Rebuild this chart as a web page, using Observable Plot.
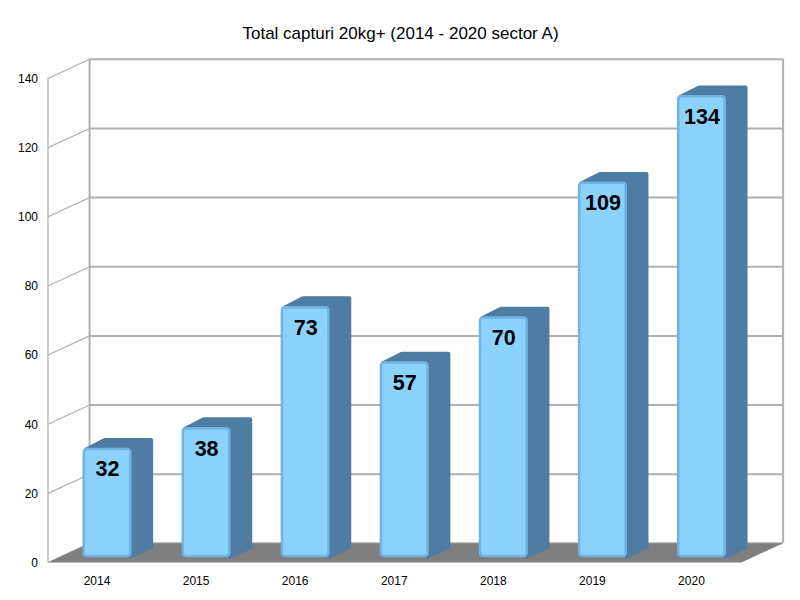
<!DOCTYPE html>
<html>
<head>
<meta charset="utf-8">
<script src="https://cdn.jsdelivr.net/npm/d3@7"></script>
<script src="https://cdn.jsdelivr.net/npm/@observablehq/plot@0.6"></script>
<style>html,body{margin:0;padding:0;background:#fff}svg{display:block}</style>
</head>
<body>
<div id="chart"></div>
<script>
const titleText = "Total capturi 20kg+ (2014 - 2020 sector A)";
const years = ["2014","2015","2016","2017","2018","2019","2020"];
const values = [32,38,73,57,70,109,134];
const yTicks = [0,20,40,60,80,100,120,140];

// Oblique 3D projection, in data units of the two scales
const wallX = 0.42, wallY = 5.55;    // depth of the whole floor
const barX = 0.205, barY = 2.7;       // depth of a bar
const barLeft = 0.366, barRight = 0.836, barBase = 1.74, barTopShift = 0.7;

const n = years.length;
const bars = years.map((year, i) => ({
  year, value: values[i],
  x1: i + barLeft, x2: i + barRight,
  y1: barBase, y2: values[i] + barTopShift
}));
const sides = bars.flatMap(b => [
  {year: b.year, x: b.x1 + .02, y: b.y2},
  {year: b.year, x: b.x1 + barX, y: b.y2 + barY},
  {year: b.year, x: b.x2 + barX, y: b.y2 + barY},
  {year: b.year, x: b.x2 + barX, y: b.y1 + barY},
  {year: b.year, x: b.x2, y: b.y1},
  {year: b.year, x: b.x1 + .02, y: b.y2}
]);
const floor = [[0,0],[n,0],[n+wallX,wallY],[wallX,wallY],[0,0]];

const grey = "#b0b0b0";
const chart = Plot.plot({
  width: 800, height: 600,
  marginLeft: 47.5, marginRight: 59, marginTop: 78, marginBottom: 38,
  style: {fontFamily: "'Liberation Sans', Arial, sans-serif", background: "#fff", color: "#000"},
  x: {type: "linear", domain: [0, n]},
  y: {domain: [0, 140]},
  marks: [
    // back wall grid
    Plot.ruleY(yTicks, {y: d => d + wallY, x1: wallX, x2: n + wallX, stroke: grey, strokeWidth: 2, strokeOpacity: 1}),
    Plot.ruleX([wallX, n + wallX], {y1: wallY, y2: 140 + wallY, stroke: grey, strokeWidth: 2, strokeOpacity: 1}),
    // side wall
    Plot.link(yTicks, {x1: 0, y1: d => d, x2: wallX, y2: d => d + wallY, stroke: grey, strokeWidth: 1.2, strokeOpacity: 1}),
    Plot.ruleX([0], {y1: 0, y2: 140, stroke: grey, strokeWidth: 1.2, strokeOpacity: 1}),
    // floor
    Plot.line(floor, {x: d => d[0], y: d => d[1], fill: "#7f7f7f", stroke: "none"}),
    // bar top + side
    Plot.line(sides, {x: "x", y: "y", z: "year", fill: "#4f7ca3", stroke: "#4f7ca3", strokeWidth: 4, strokeLinejoin: "round", strokeOpacity: 1}),
    // bar front
    Plot.rect(bars, {x1: "x1", x2: "x2", y1: "y1", y2: "y2", fill: "#8cd2ff", stroke: "#70b2e2", strokeWidth: 2.5, rx: 3, ry: 3}),
    // value labels
    Plot.text(bars, {x: d => (d.x1 + d.x2) / 2, y: "y2", text: d => String(d.value), dy: 20, dx: 0, fontSize: 21.5, fontWeight: "bold", fill: "#000"}),
    // axes
    Plot.axisY({ticks: yTicks, tickSize: 0, tickPadding: 10, dy: 0.5, fontSize: 12, label: null, anchor: "left"}),
    Plot.axisX({ticks: years.map((_, i) => i + .5), tickFormat: d => years[d - .5], tickSize: 0, tickPadding: 13.5, dx: -0.5, fontSize: 12, label: null, anchor: "bottom"}),
    // title
    Plot.text([titleText], {frameAnchor: "top", x: null, dx: 400 - 394.25, dy: -52, fontSize: 17, fill: "#000"})
  ]
});
document.getElementById("chart").append(chart);
</script>
</body>
</html>
